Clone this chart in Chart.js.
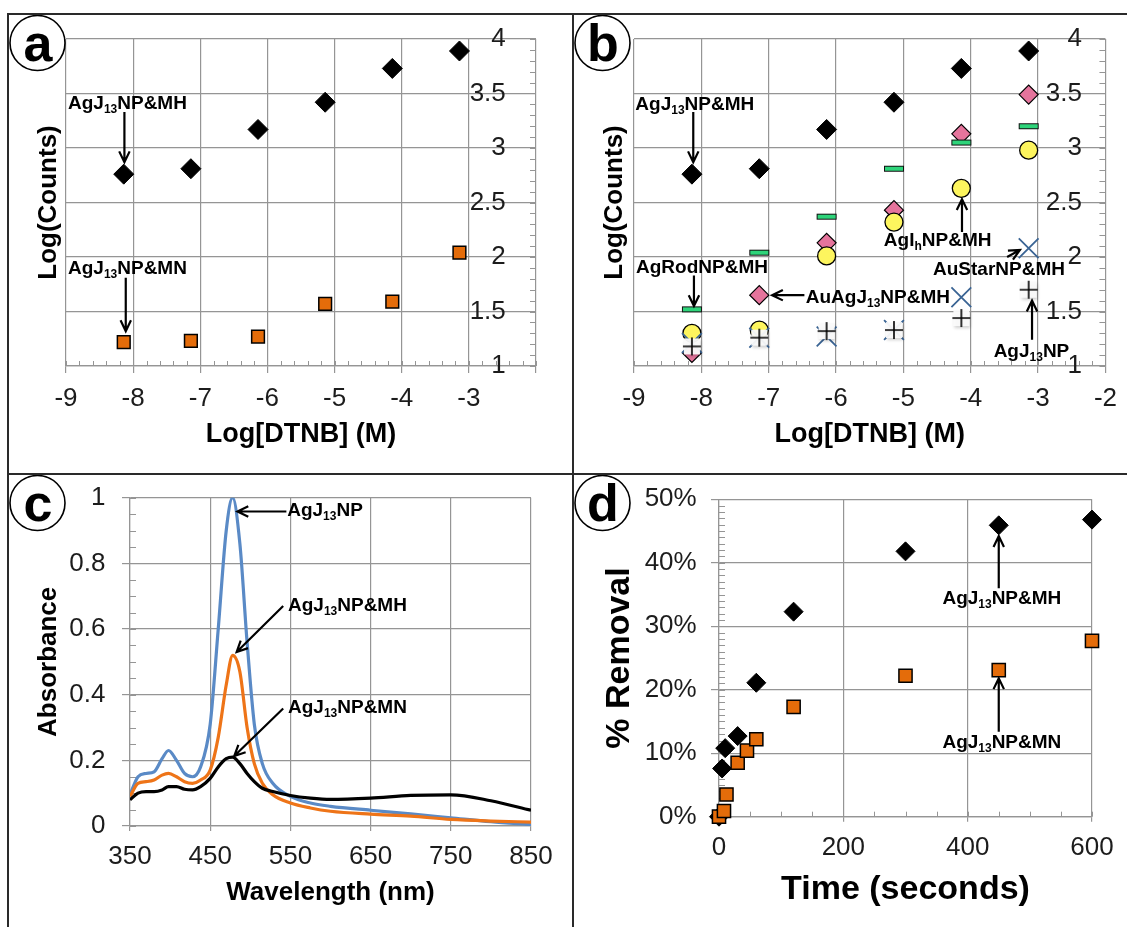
<!DOCTYPE html>
<html>
<head>
<meta charset="utf-8">
<script src="https://cdn.jsdelivr.net/npm/chart.js@4.4.1/dist/chart.umd.min.js"></script>
<style>
  body { margin: 0; background: #fff; }
  #fig { position: relative; width: 1127px; height: 927px; overflow: hidden; }
  #fig canvas { position: absolute; }
  .ln { position: absolute; background: #2a2a2a; z-index: 5; }
</style>
</head>
<body>
<div id="fig">
  <canvas id="ca" width="563" height="458" style="left:9px;top:15px"></canvas>
  <canvas id="cb" width="553" height="458" style="left:574px;top:15px"></canvas>
  <canvas id="cc" width="563" height="452" style="left:9px;top:475px"></canvas>
  <canvas id="cd" width="553" height="452" style="left:574px;top:475px"></canvas>
  <div class="ln" style="left:7px;top:13px;width:1120px;height:2px"></div>
  <div class="ln" style="left:7px;top:13px;width:2px;height:914px"></div>
  <div class="ln" style="left:572px;top:13px;width:2px;height:914px"></div>
  <div class="ln" style="left:7px;top:473px;width:1120px;height:2px"></div>
</div>
<script>
// ---- data (a, b): log of DTNB concentration vs log counts
var dtnbLog = [-8.14, -7.14, -6.14, -5.14, -4.14, -3.14];
var agMH = [2.76, 2.81, 3.17, 3.42, 3.73, 3.89];
var agMN = [1.22, 1.23, 1.27, 1.57, 1.59, 2.04];
var auAgMH = [1.12, 1.65, 2.13, 2.43, 3.13, 3.49];
var agRodMH = [1.52, 2.04, 2.37, 2.81, 3.05, 3.20];
var agIhMH = [1.30, 1.33, 2.01, 2.32, 2.63, 2.98];
var auStarMH = [1.21, 1.26, 1.27, 1.33, 1.63, 2.08];
var agNP = [1.18, 1.26, 1.32, 1.33, 1.44, 1.70];

// ---- data (c): absorbance spectra
var wl = [350, 360, 370, 380, 390, 398, 408, 418, 428, 438, 450, 460, 470, 478, 487, 496, 505, 515, 528, 550, 575, 600, 650, 700, 750, 800, 850];
var absNP = [0.095, 0.15, 0.16, 0.165, 0.205, 0.23, 0.20, 0.16, 0.15, 0.18, 0.31, 0.60, 0.90, 1.0, 0.86, 0.56, 0.31, 0.19, 0.13, 0.09, 0.07, 0.06, 0.048, 0.037, 0.025, 0.013, 0.004];
var absMH = [0.09, 0.13, 0.135, 0.14, 0.155, 0.16, 0.15, 0.135, 0.13, 0.14, 0.17, 0.27, 0.43, 0.52, 0.47, 0.30, 0.19, 0.13, 0.095, 0.07, 0.055, 0.045, 0.036, 0.03, 0.02, 0.015, 0.012];
var absMN = [0.08, 0.10, 0.105, 0.105, 0.11, 0.12, 0.12, 0.112, 0.11, 0.12, 0.145, 0.18, 0.205, 0.21, 0.19, 0.16, 0.135, 0.115, 0.105, 0.093, 0.085, 0.081, 0.085, 0.093, 0.095, 0.077, 0.048];

// ---- data (d): % removal over time
var tMH = [0, 5, 10, 30, 60, 120, 300, 450, 600];
var remMH = [0, 7.6, 10.8, 12.7, 21.1, 32.3, 41.8, 45.9, 46.8];
var tMN = [0, 8, 12, 30, 45, 60, 120, 300, 450, 600];
var remMN = [0, 0.9, 3.5, 8.5, 10.4, 12.2, 17.3, 22.2, 23.1, 27.7];

var FONT = 'Arial, "Liberation Sans", sans-serif';
var GRID = '#959595';
var TXT = '#1c1c1c';
var ORANGE = '#E46C0A';

function pts(xs, ys) {
    return xs.map(function (x, i) { return { x: x, y: ys[i] }; });
}

// text with {subscript} parts
function drawRich(ctx, text, x, y, size, align) {
    var parts = text.split(/(\{[^}]*\})/).filter(Boolean);
    var big = 'bold ' + size + 'px ' + FONT;
    var small = 'bold ' + Math.round(size * 0.63) + 'px ' + FONT;
    var w = 0;
    parts.forEach(function (p) {
        ctx.font = p[0] === '{' ? small : big;
        w += ctx.measureText(p.replace(/[{}]/g, '')).width;
    });
    var cx = align === 'center' ? x - w / 2 : x;
    ctx.textAlign = 'left';
    ctx.textBaseline = 'middle';
    ctx.fillStyle = '#000';
    parts.forEach(function (p) {
        var sub = p[0] === '{';
        var t = p.replace(/[{}]/g, '');
        ctx.font = sub ? small : big;
        ctx.fillText(t, cx, sub ? y + size * 0.32 : y);
        cx += ctx.measureText(t).width;
    });
}

function arrow(ctx, x1, y1, x2, y2) {
    var a = Math.atan2(y2 - y1, x2 - x1), h = 12, s = 0.45;
    ctx.beginPath();
    ctx.moveTo(x1, y1);
    ctx.lineTo(x2, y2);
    ctx.moveTo(x2 - h * Math.cos(a - s), y2 - h * Math.sin(a - s));
    ctx.lineTo(x2, y2);
    ctx.lineTo(x2 - h * Math.cos(a + s), y2 - h * Math.sin(a + s));
    ctx.stroke();
}

// minor ticks, arrows/labels and the circled panel letter
var panelPlugin = {
    id: 'panel',
    beforeDatasetsDraw: function (chart, args, o) {
        var ctx = chart.ctx, ca = chart.chartArea;
        ctx.save();
        ctx.strokeStyle = GRID;
        ctx.lineWidth = 1;
        (o.minor || []).forEach(function (m) {
            var sc = chart.scales[m.scale];
            var n = Math.round((sc.max - sc.min) / m.step);
            ctx.beginPath();
            for (var i = 0; i <= n; i++) {
                var p = Math.round(sc.getPixelForValue(sc.min + i * m.step)) + 0.5;
                if (m.edge === 'bottom') { ctx.moveTo(p, ca.bottom); ctx.lineTo(p, ca.bottom - m.len); }
                else if (m.edge === 'right') { ctx.moveTo(ca.right, p); ctx.lineTo(ca.right - m.len, p); }
                else { ctx.moveTo(ca.left, p); ctx.lineTo(ca.left + m.len, p); }
            }
            ctx.stroke();
        });
        ctx.restore();
    },
    afterDatasetsDraw: function (chart, args, o) {
        var ctx = chart.ctx, xs = chart.scales.x, ys = chart.scales.y;
        ctx.save();
        ctx.strokeStyle = '#000';
        ctx.lineWidth = 2.2;
        (o.notes || []).forEach(function (n) {
            if (n.arrow) {
                arrow(ctx, xs.getPixelForValue(n.arrow[0]), ys.getPixelForValue(n.arrow[1]),
                    xs.getPixelForValue(n.arrow[2]), ys.getPixelForValue(n.arrow[3]));
            }
            drawRich(ctx, n.text, xs.getPixelForValue(n.x), ys.getPixelForValue(n.y), 19, n.align || 'left');
        });
        ctx.restore();
    },
    afterDraw: function (chart, args, o) {
        var ctx = chart.ctx;
        ctx.save();
        ctx.beginPath();
        ctx.arc(28.5, 28, 27.5, 0, 2 * Math.PI);
        ctx.fillStyle = '#fff';
        ctx.fill();
        ctx.lineWidth = 1.6;
        ctx.strokeStyle = '#000';
        ctx.stroke();
        ctx.fillStyle = '#000';
        ctx.font = 'bold 52px ' + FONT;
        ctx.textAlign = 'center';
        ctx.textBaseline = 'alphabetic';
        ctx.fillText(o.letter, 29, 46);
        ctx.restore();
    }
};

// marker sprites for the dash and shadowed plus
function dashSprite() {
    var c = document.createElement('canvas');
    c.width = 22; c.height = 8;
    var g = c.getContext('2d');
    g.fillStyle = '#2ED47A';
    g.fillRect(1.5, 1.5, 19, 5);
    g.strokeStyle = '#111';
    g.lineWidth = 1;
    g.strokeRect(1.5, 1.5, 19, 5);
    return c;
}
function plusSprite() {
    var c = document.createElement('canvas');
    c.width = 28; c.height = 28;
    var g = c.getContext('2d');
    g.shadowColor = 'rgba(0,0,0,0.2)';
    g.shadowBlur = 3;
    g.shadowOffsetX = 1;
    g.shadowOffsetY = 2;
    g.fillStyle = 'rgba(250,250,250,0.95)';
    g.fillRect(6, 6, 16, 16);
    g.shadowColor = 'transparent';
    g.strokeStyle = '#000';
    g.lineWidth = 1.6;
    g.beginPath();
    g.moveTo(5, 14); g.lineTo(23, 14);
    g.moveTo(14, 5); g.lineTo(14, 23);
    g.stroke();
    return c;
}

function tickFont(lh) { return { size: 26, family: FONT, lineHeight: lh || 1.2 }; }
function titleFont(s) { return { size: s, weight: 'bold', family: FONT }; }
function plain(v) { return String(Math.round(v * 100) / 100); }

function marker(data, style, r, fill, edge, bw) {
    return {
        data: data, pointStyle: style, pointRadius: r, pointHoverRadius: r,
        pointBackgroundColor: fill, pointBorderColor: edge, pointBorderWidth: bw,
        showLine: false, clip: false
    };
}

// panels a and b share the same axes; the y labels sit inside the plot
function logScales(o) {
    return {
        x: {
            type: 'linear', min: -9, max: -2,
            ticks: {
                stepSize: 1, color: TXT, font: tickFont(), padding: 10, autoSkip: false, maxRotation: 0,
                callback: function (v) { return (o.hideLast && v === -2) ? '' : String(v); }
            },
            grid: { color: GRID, tickColor: GRID, tickLength: 7, lineWidth: 1.2 },
            border: { color: GRID, width: 1.2 },
            title: { display: true, text: 'Log[DTNB] (M)', color: '#000', font: titleFont(27), padding: 0 },
            afterFit: function (s) { s.height = 85; }
        },
        y: {
            type: 'linear', min: 1, max: 4, position: { x: o.labelX },
            ticks: { stepSize: 0.5, color: TXT, font: tickFont(), padding: 0, autoSkip: false, callback: plain },
            grid: { color: GRID, drawTicks: false, lineWidth: 1.2 },
            border: { display: false }
        },
        yt: {
            type: 'linear', position: 'left',
            ticks: { display: false }, grid: { display: false }, border: { display: false },
            title: { display: true, text: 'Log(Counts)', color: '#000', font: titleFont(26), padding: { top: o.titlePad, bottom: 0 } },
            afterFit: function (s) { s.width = o.left; }
        }
    };
}

var common = {
    responsive: false, animation: false, events: [], devicePixelRatio: 1
};

// ---- panel a
new Chart(document.getElementById('ca'), {
    type: 'scatter',
    data: {
        datasets: [
            marker(pts(dtnbLog, agMN), 'rect', 9, ORANGE, '#000', 1.5),
            marker(pts(dtnbLog, agMH), 'rectRot', 10, '#000', '#000', 1)
        ]
    },
    options: Object.assign({}, common, {
        layout: { padding: { left: 0, top: 24, right: 36, bottom: 22 } },
        scales: logScales({ hideLast: true, labelX: -2.45, titlePad: 24, left: 57 }),
        plugins: {
            legend: { display: false }, tooltip: { enabled: false },
            panel: {
                letter: 'a',
                minor: [{ scale: 'x', step: 0.2, len: 5, edge: 'bottom' }, { scale: 'y', step: 0.1, len: 6, edge: 'right' }],
                notes: [
                    { text: 'AgJ{13}NP&MH', x: -8.97, y: 3.41, arrow: [-8.13, 3.33, -8.13, 2.87] },
                    { text: 'AgJ{13}NP&MN', x: -8.97, y: 1.89, arrow: [-8.11, 1.81, -8.11, 1.32] }
                ]
            }
        }
    }),
    plugins: [panelPlugin]
});

// ---- panel b
new Chart(document.getElementById('cb'), {
    type: 'scatter',
    data: {
        datasets: [
            marker(pts(dtnbLog, agNP), plusSprite(), 9, '#000', '#000', 1),
            marker(pts(dtnbLog, auStarMH), 'crossRot', 14, '#3A6494', '#3A6494', 1.8),
            marker(pts(dtnbLog, agIhMH), 'circle', 9, '#FDF55E', '#000', 1.3),
            marker(pts(dtnbLog, agRodMH), dashSprite(), 9, '#2ED47A', '#000', 1),
            marker(pts(dtnbLog, auAgMH), 'rectRot', 9.5, '#E5749C', '#000', 1.2),
            marker(pts(dtnbLog, agMH), 'rectRot', 10, '#000', '#000', 1)
        ]
    },
    options: Object.assign({}, common, {
        layout: { padding: { left: 0, top: 24, right: 21, bottom: 22 } },
        scales: logScales({ hideLast: false, labelX: -2.35, titlePad: 25, left: 60 }),
        plugins: {
            legend: { display: false }, tooltip: { enabled: false },
            panel: {
                letter: 'b',
                minor: [{ scale: 'x', step: 0.2, len: 5, edge: 'bottom' }, { scale: 'y', step: 0.1, len: 6, edge: 'right' }],
                notes: [
                    { text: 'AgJ{13}NP&MH', x: -8.98, y: 3.40, arrow: [-8.12, 3.33, -8.12, 2.87] },
                    { text: 'AgRodNP&MH', x: -8.97, y: 1.90, arrow: [-8.11, 1.83, -8.11, 1.55] },
                    { text: 'AuAgJ{13}NP&MH', x: -6.45, y: 1.63, arrow: [-6.47, 1.65, -6.95, 1.65] },
                    { text: 'AgI{h}NP&MH', x: -5.29, y: 2.15, arrow: [-4.13, 2.23, -4.13, 2.53] },
                    { text: 'AuStarNP&MH', x: -4.56, y: 1.88, arrow: [-3.46, 2.0, -3.27, 2.065] },
                    { text: 'AgJ{13}NP', x: -3.66, y: 1.13, arrow: [-3.09, 1.24, -3.09, 1.60] }
                ]
            }
        }
    }),
    plugins: [panelPlugin]
});

// ---- panel c
function curve(ys, color) {
    return {
        data: pts(wl, ys), showLine: true, borderColor: color, borderWidth: 3.2,
        pointRadius: 0, fill: false, cubicInterpolationMode: 'monotone'
    };
}
new Chart(document.getElementById('cc'), {
    type: 'scatter',
    data: { datasets: [curve(absMN, '#000'), curve(absMH, '#EE7418'), curve(absNP, '#5A8AC6')] },
    options: Object.assign({}, common, {
        layout: { padding: { left: 0, top: 22.7, right: 41, bottom: 18.4 } },
        scales: {
            x: {
                type: 'linear', min: 350, max: 850,
                ticks: { stepSize: 100, color: TXT, font: tickFont(), padding: 10, autoSkip: false, maxRotation: 0 },
                grid: { color: GRID, tickColor: GRID, tickLength: 5, lineWidth: 1.2 },
                border: { color: GRID, width: 1.2 },
                title: { display: true, text: 'Wavelength (nm)', color: '#000', font: titleFont(26), padding: 0 },
                afterFit: function (s) { s.height = 82.6; }
            },
            y: {
                type: 'linear', min: 0, max: 1,
                ticks: { stepSize: 0.2, color: TXT, font: tickFont(0.4), padding: 16.5, autoSkip: false, callback: plain },
                grid: { color: GRID, tickColor: GRID, tickLength: 8, lineWidth: 1.2 },
                border: { color: GRID, width: 1.2 },
                title: { display: true, text: 'Absorbance', color: '#000', font: titleFont(26), padding: { top: 24.4, bottom: 0 } },
                afterFit: function (s) { s.width = 121; }
            }
        },
        plugins: {
            legend: { display: false }, tooltip: { enabled: false },
            panel: {
                letter: 'c',
                minor: [{ scale: 'y', step: 0.05, len: 6, edge: 'left' }],
                notes: [
                    { text: 'AgJ{13}NP', x: 546, y: 0.96, arrow: [545, 0.958, 484, 0.958] },
                    { text: 'AgJ{13}NP&MH', x: 547, y: 0.67, arrow: [541, 0.67, 483, 0.53] },
                    { text: 'AgJ{13}NP&MN', x: 547, y: 0.36, arrow: [541, 0.358, 480, 0.213] }
                ]
            }
        }
    }),
    plugins: [panelPlugin]
});

// ---- panel d
new Chart(document.getElementById('cd'), {
    type: 'scatter',
    data: {
        datasets: [
            marker(pts(tMN, remMN), 'rect', 9.3, ORANGE, '#000', 1.5),
            marker(pts(tMH, remMH), 'rectRot', 9.5, '#000', '#000', 1)
        ]
    },
    options: Object.assign({}, common, {
        layout: { padding: { left: 0, top: 24.3, right: 35, bottom: 16.6 } },
        scales: {
            x: {
                type: 'linear', min: 0, max: 600,
                ticks: { stepSize: 200, color: TXT, font: tickFont(), padding: 10.7, autoSkip: false, maxRotation: 0 },
                grid: { color: GRID, tickColor: GRID, tickLength: 5, lineWidth: 1.2 },
                border: { color: GRID, width: 1.2 },
                title: { display: true, text: 'Time (seconds)', color: '#000', font: titleFont(34), padding: 0 },
                afterFit: function (s) { s.height = 93.7; }
            },
            y: {
                type: 'linear', min: 0, max: 50,
                ticks: {
                    stepSize: 10, color: TXT, font: tickFont(0.4), padding: 14.3, autoSkip: false,
                    callback: function (v) { return v + '%'; }
                },
                grid: { color: GRID, tickColor: GRID, tickLength: 8, lineWidth: 1.2 },
                border: { color: GRID, width: 1.2 },
                title: { display: true, text: '% Removal', color: '#000', font: titleFont(34), padding: { top: 25, bottom: 0 } },
                afterFit: function (s) { s.width = 145; }
            }
        },
        plugins: {
            legend: { display: false }, tooltip: { enabled: false },
            panel: {
                letter: 'd',
                minor: [{ scale: 'x', step: 50, len: 5, edge: 'bottom' }, { scale: 'y', step: 1, len: 6, edge: 'left' }],
                notes: [
                    { text: 'AgJ{13}NP&MH', x: 455, y: 34.4, align: 'center', arrow: [450, 36.0, 450, 44.2] },
                    { text: 'AgJ{13}NP&MN', x: 455, y: 11.65, align: 'center', arrow: [450, 13.4, 450, 21.8] }
                ]
            }
        }
    }),
    plugins: [panelPlugin]
});
</script>
</body>
</html>
